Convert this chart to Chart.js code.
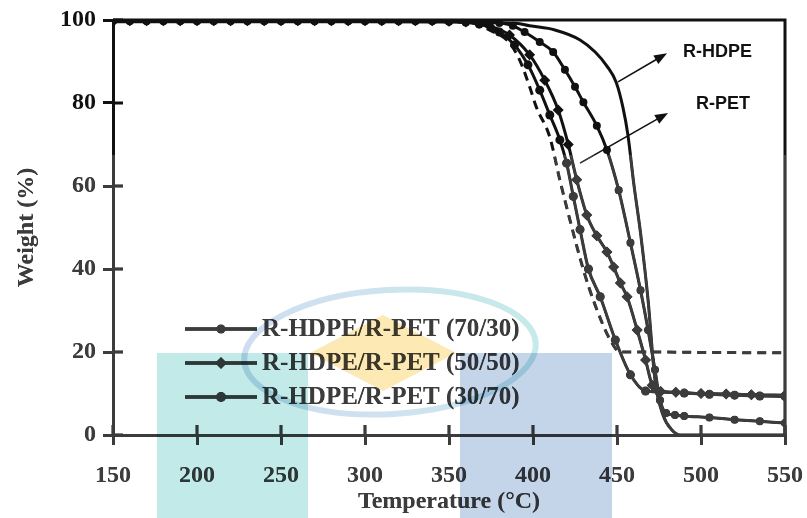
<!DOCTYPE html>
<html>
<head>
<meta charset="utf-8">
<script src="https://cdn.jsdelivr.net/npm/chart.js@4.4.1/dist/chart.umd.min.js"></script>
<style>
  html, body { margin: 0; padding: 0; background: #fff; }
</style>
</head>
<body>
<canvas id="tgaChart" width="807" height="518"></canvas>
<script>
// axis ticks
const xTicks = [150, 200, 250, 300, 350, 400, 450, 500, 550]
const yTicks = [0, 20, 40, 60, 80, 100]

// R-HDPE (solid, no markers)
const hdpeTemp = [150, 200, 250, 300, 350, 390, 398, 413, 428, 437, 444, 449.5, 453.5, 456.5, 460, 464, 468.5, 472.6, 477.4, 482.7, 487.5, 550]
const hdpeWeight = [99.6, 99.6, 99.6, 99.6, 99.5, 99.2, 98.6, 97.6, 95.2, 92.3, 88.9, 85.0, 79.0, 72.3, 60.5, 48.7, 32.5, 13.3, 4.8, 1.2, 0, 0]

// R-PET (dashed)
const petTemp = [150, 200, 250, 300, 340, 362, 374, 386, 392, 398, 402, 410, 416, 422, 430, 437, 446, 452, 470, 500, 550]
const petWeight = [99.8, 99.8, 99.8, 99.7, 99.6, 99.4, 97.6, 94.5, 90.4, 83.9, 79.0, 71.8, 61.4, 51.8, 39.8, 31.3, 22.9, 20.0, 20.0, 19.9, 19.8]

// R-HDPE/R-PET (70/30)
const b7030Temp = [150, 160, 170, 180, 190, 200, 210, 220, 230, 240, 250, 260, 270, 280, 290, 300, 310, 320, 330, 340, 350, 360, 370, 380, 388,
  395, 404, 412, 419, 425, 430, 438, 444, 451, 458, 464, 468.5, 472.6, 475.6, 479.2, 484.5, 490, 505, 520, 535, 550]
const b7030Weight = [99.8, 99.8, 99.8, 99.8, 99.8, 99.8, 99.8, 99.8, 99.8, 99.8, 99.8, 99.8, 99.8, 99.8, 99.8, 99.8, 99.8, 99.8, 99.8, 99.8, 99.8, 99.7, 99.6, 99.3, 98.6,
  97.1, 94.7, 92.3, 88.0, 83.9, 80.2, 74.5, 68.7, 59.0, 46.3, 34.9, 25.3, 15.7, 8.4, 5.3, 4.8, 4.6, 4.2, 3.7, 3.3, 2.9]

// R-HDPE/R-PET (50/50)
const b5050Temp = [150, 160, 170, 180, 190, 200, 210, 220, 230, 240, 250, 260, 270, 280, 290, 300, 310, 320, 330, 340, 350, 360,
  374, 386, 398, 407, 415, 421, 426, 432, 438, 444, 448, 452, 456, 462, 467, 471, 476, 485, 500, 515, 530, 550]
const b5050Weight = [99.8, 99.8, 99.8, 99.8, 99.8, 99.8, 99.8, 99.8, 99.8, 99.8, 99.8, 99.8, 99.8, 99.8, 99.8, 99.8, 99.8, 99.8, 99.8, 99.8, 99.7, 99.5,
  98.6, 96.4, 91.6, 85.5, 78.3, 70.0, 61.5, 53.0, 48.0, 44.1, 40.5, 36.6, 33.3, 25.3, 18.1, 12.0, 10.5, 10.3, 10.0, 9.9, 9.7, 9.6]

// R-HDPE/R-PET (30/70)
const b3070Temp = [150, 160, 170, 180, 190, 200, 210, 220, 230, 240, 250, 260, 270, 280, 290, 300, 310, 320, 330, 340, 350, 360,
  368, 380, 389, 397, 404, 410, 416, 420, 424, 428, 433, 440, 449, 458, 467, 475, 490, 505, 520, 535, 550]
const b3070Weight = [99.8, 99.8, 99.8, 99.8, 99.8, 99.8, 99.8, 99.8, 99.8, 99.8, 99.8, 99.8, 99.8, 99.8, 99.8, 99.8, 99.8, 99.8, 99.8, 99.8, 99.7, 99.5,
  99.0, 97.1, 94.0, 89.2, 83.1, 77.1, 71.1, 65.5, 57.5, 49.5, 40.0, 33.3, 22.9, 14.5, 10.6, 10.4, 10.1, 9.8, 9.6, 9.4, 9.3]

// arrow labels, in data units
const noteLabels = ['R-HDPE', 'R-PET']
const noteTail = [[450.6, 85.1], [428.0, 65.5]]
const noteHead = [[479.8, 92.0], [480.4, 77.6]]
const noteText = [[489.3, 92.3], [497.0, 79.8]]

const INK = '#111'
const SERIF = "'Liberation Serif', 'Times New Roman', serif"
const SANS = "'Liberation Sans', Arial, sans-serif"

const toPoints = (xs, ys) => xs.map((x, i) => ({ x: x, y: ys[i] }))

function drawMarker (ctx, style, x, y, r) {
  ctx.beginPath()
  if (style === 'rectRot') {
    ctx.moveTo(x, y - r)
    ctx.lineTo(x + r, y)
    ctx.lineTo(x, y + r)
    ctx.lineTo(x - r, y)
    ctx.closePath()
  } else {
    ctx.arc(x, y, r, 0, Math.PI * 2)
  }
  ctx.fill()
}

const paper = {
  id: 'paper',
  beforeDraw (chart) {
    const ctx = chart.ctx
    ctx.save()
    ctx.fillStyle = '#fff'
    ctx.fillRect(0, 0, chart.width, chart.height)
    ctx.restore()
  }
}

// frame on top/right and the inner half of each tick
const frame = {
  id: 'frame',
  afterDatasetsDraw (chart) {
    const { ctx, chartArea: a, scales } = chart
    ctx.save()
    ctx.strokeStyle = INK
    ctx.lineWidth = 3
    ctx.beginPath()
    ctx.moveTo(a.left, a.top)
    ctx.lineTo(a.right, a.top)
    ctx.lineTo(a.right, a.bottom)
    ctx.stroke()
    ctx.beginPath()
    for (const v of xTicks) {
      const px = scales.x.getPixelForValue(v)
      ctx.moveTo(px, a.bottom)
      ctx.lineTo(px, a.bottom - 10)
    }
    for (const v of yTicks) {
      const py = scales.y.getPixelForValue(v)
      ctx.moveTo(a.left, py)
      ctx.lineTo(a.left + 10, py)
    }
    ctx.stroke()
    ctx.restore()
  }
}

// legend inside the plot + arrow notes
const notes = {
  id: 'notes',
  afterDatasetsDraw (chart) {
    const { ctx, scales } = chart
    ctx.save()

    // arrows
    ctx.strokeStyle = INK
    ctx.fillStyle = INK
    ctx.lineWidth = 1.6
    noteLabels.forEach((label, i) => {
      const x0 = scales.x.getPixelForValue(noteTail[i][0])
      const y0 = scales.y.getPixelForValue(noteTail[i][1])
      const x1 = scales.x.getPixelForValue(noteHead[i][0])
      const y1 = scales.y.getPixelForValue(noteHead[i][1])
      const ang = Math.atan2(y1 - y0, x1 - x0)
      ctx.beginPath()
      ctx.moveTo(x0, y0)
      ctx.lineTo(x1 - 10 * Math.cos(ang), y1 - 10 * Math.sin(ang))
      ctx.stroke()
      ctx.beginPath()
      ctx.moveTo(x1, y1)
      ctx.lineTo(x1 - 13 * Math.cos(ang) + 5 * Math.sin(ang), y1 - 13 * Math.sin(ang) - 5 * Math.cos(ang))
      ctx.lineTo(x1 - 13 * Math.cos(ang) - 5 * Math.sin(ang), y1 - 13 * Math.sin(ang) + 5 * Math.cos(ang))
      ctx.closePath()
      ctx.fill()

      ctx.font = 'bold 18px ' + SANS
      ctx.textBaseline = 'middle'
      ctx.textAlign = 'left'
      ctx.fillText(label, scales.x.getPixelForValue(noteText[i][0]), scales.y.getPixelForValue(noteText[i][1]))
    })

    // legend
    const rows = chart.data.datasets.filter(d => d.legendRow !== undefined)
    rows.forEach(d => {
      const y = 329 + d.legendRow * 34
      ctx.strokeStyle = d.borderColor
      ctx.fillStyle = d.borderColor
      ctx.lineWidth = 3.5
      ctx.beginPath()
      ctx.moveTo(185, y)
      ctx.lineTo(257, y)
      ctx.stroke()
      drawMarker(ctx, d.pointStyle, 221, y, d.pointRadius + 0.5)
      ctx.fillStyle = INK
      ctx.font = 'bold 25px ' + SERIF
      ctx.textBaseline = 'middle'
      ctx.textAlign = 'left'
      ctx.fillText(d.label, 262, y + 1)
    })
    ctx.restore()
  }
}

// the scanned look: grey lower part and the coloured stamp behind the legend
const scan = {
  id: 'scan',
  afterDraw (chart) {
    const ctx = chart.ctx
    ctx.save()
    ctx.globalCompositeOperation = 'lighten'
    ctx.fillStyle = '#3c3c3c'
    ctx.fillRect(0, 155, chart.width, chart.height - 155)

    ctx.globalCompositeOperation = 'multiply'
    ctx.fillStyle = '#c2eae8'
    ctx.fillRect(157, 353, 151, 165)
    ctx.fillStyle = '#c4d5ea'
    ctx.fillRect(460, 353, 152, 165)

    ctx.fillStyle = '#fde9b4'
    ctx.beginPath()
    ctx.moveTo(383, 315)
    ctx.lineTo(456, 353)
    ctx.lineTo(383, 391)
    ctx.lineTo(310, 353)
    ctx.closePath()
    ctx.fill()

    const g = ctx.createLinearGradient(250, 420, 530, 290)
    g.addColorStop(0, '#cddcef')
    g.addColorStop(0.45, '#d0e2f0')
    g.addColorStop(1, '#c4ebe9')
    ctx.strokeStyle = g
    ctx.lineWidth = 6
    ctx.beginPath()
    ctx.ellipse(390, 352, 146, 62, -0.06, 0, Math.PI * 2)
    ctx.stroke()
    ctx.restore()
  }
}

const tickFont = { family: SERIF, size: 24, weight: 'bold' }

new Chart(document.getElementById('tgaChart'), {
  type: 'scatter',
  data: {
    datasets: [
      {
        label: 'R-HDPE',
        data: toPoints(hdpeTemp, hdpeWeight),
        showLine: true,
        borderColor: INK,
        borderWidth: 3,
        pointRadius: 0,
        cubicInterpolationMode: 'monotone'
      },
      {
        label: 'R-PET',
        data: toPoints(petTemp, petWeight),
        showLine: true,
        borderColor: INK,
        borderWidth: 3,
        borderDash: [9, 6],
        pointRadius: 0,
        cubicInterpolationMode: 'monotone'
      },
      {
        label: 'R-HDPE/R-PET (70/30)',
        legendRow: 0,
        data: toPoints(b7030Temp, b7030Weight),
        showLine: true,
        borderColor: INK,
        backgroundColor: INK,
        borderWidth: 3,
        pointStyle: 'circle',
        pointRadius: 4,
        pointBorderWidth: 0,
        cubicInterpolationMode: 'monotone'
      },
      {
        label: 'R-HDPE/R-PET (50/50)',
        legendRow: 1,
        data: toPoints(b5050Temp, b5050Weight),
        showLine: true,
        borderColor: INK,
        backgroundColor: INK,
        borderWidth: 3,
        pointStyle: 'rectRot',
        pointRadius: 5.5,
        pointBorderWidth: 0,
        cubicInterpolationMode: 'monotone'
      },
      {
        label: 'R-HDPE/R-PET (30/70)',
        legendRow: 2,
        data: toPoints(b3070Temp, b3070Weight),
        showLine: true,
        borderColor: INK,
        backgroundColor: INK,
        borderWidth: 3,
        pointStyle: 'circle',
        pointRadius: 4.5,
        pointBorderWidth: 0,
        cubicInterpolationMode: 'monotone'
      }
    ]
  },
  options: {
    responsive: false,
    animation: false,
    devicePixelRatio: 1,
    layout: { padding: { top: 20, right: 22, left: 0, bottom: 0 } },
    plugins: {
      legend: { display: false },
      tooltip: { enabled: false }
    },
    scales: {
      x: {
        type: 'linear',
        min: 150,
        max: 550,
        afterFit: (scale) => {
          scale.height = 83
          scale.paddingLeft = 0
          scale.paddingRight = 0
        },
        afterBuildTicks: (scale) => { scale.ticks = xTicks.map(v => ({ value: v })) },
        ticks: { font: tickFont, color: INK, padding: 16, maxRotation: 0 },
        grid: { display: true, drawOnChartArea: false, drawTicks: true, tickLength: 10, lineWidth: 3, color: INK },
        border: { display: true, width: 3, color: INK },
        title: {
          display: true,
          text: 'Temperature (°C)',
          font: { family: SERIF, size: 24, weight: 'bold' },
          color: INK,
          padding: { top: 0, bottom: 2 }
        }
      },
      y: {
        min: 0,
        max: 100,
        afterFit: (scale) => {
          scale.width = 113
          scale.paddingTop = 0
          scale.paddingBottom = 0
        },
        afterBuildTicks: (scale) => { scale.ticks = yTicks.map(v => ({ value: v })) },
        ticks: { font: tickFont, color: INK, padding: 7 },
        grid: { display: true, drawOnChartArea: false, drawTicks: true, tickLength: 10, lineWidth: 3, color: INK },
        border: { display: true, width: 3, color: INK },
        title: {
          display: true,
          text: 'Weight (%)',
          font: { family: SERIF, size: 24, weight: 'bold' },
          color: INK,
          padding: { top: 12, bottom: 0 }
        }
      }
    }
  },
  plugins: [paper, frame, notes, scan]
})
</script>
</body>
</html>
